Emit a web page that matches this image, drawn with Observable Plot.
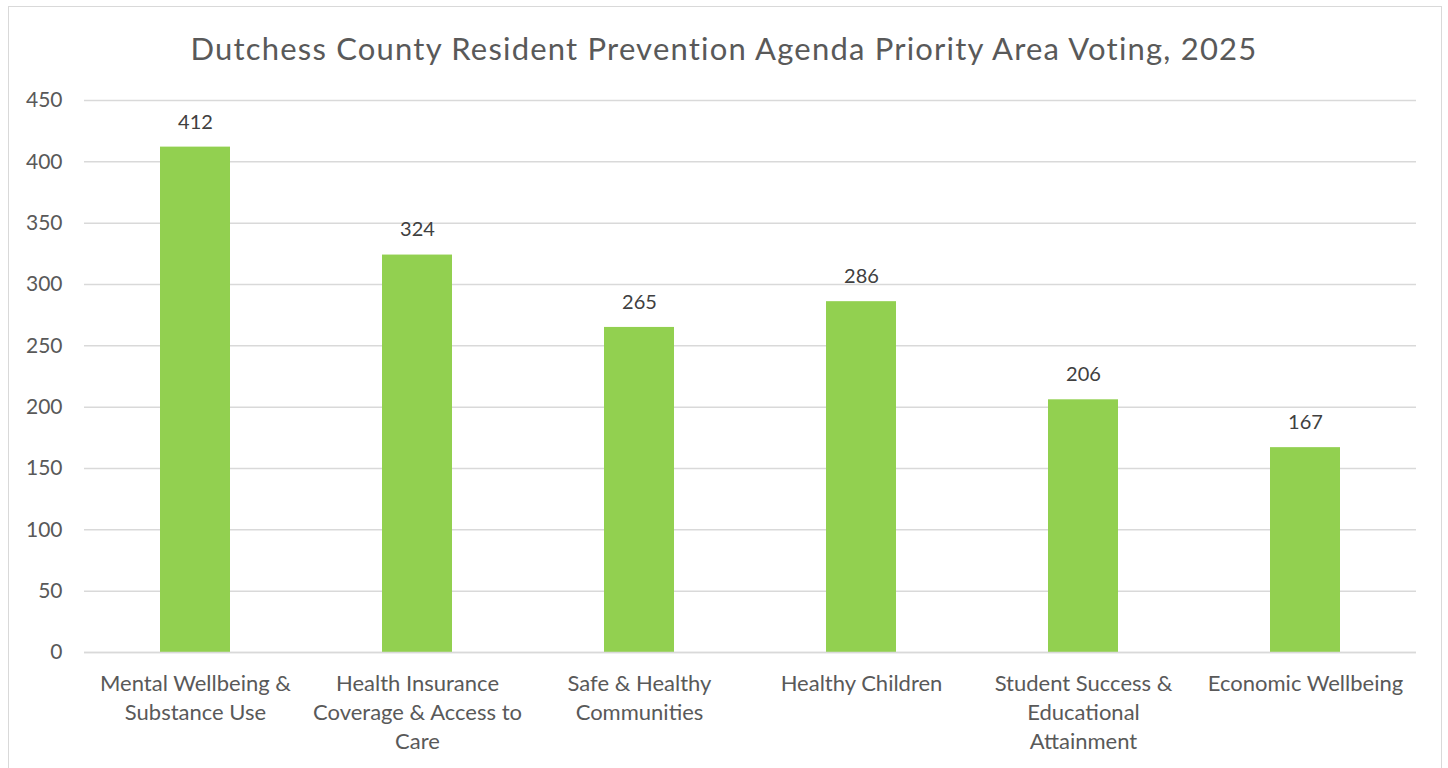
<!DOCTYPE html>
<html>
<head>
<meta charset="utf-8">
<script src="https://cdn.jsdelivr.net/npm/d3@7"></script>
<script src="https://cdn.jsdelivr.net/npm/@observablehq/plot@0.6"></script>
<style>
  html, body { margin: 0; padding: 0; background: #fff; overflow: hidden; }
  #frame { position: absolute; left: 8px; top: 6px; width: 1434px; height: 800px; border: 1.5px solid #d9d9d9; box-sizing: border-box; }
  #title { position: absolute; left: 0; top: 28px; width: 1448px; text-align: center; font-family: Lato, "Noto Sans", sans-serif; font-size: 31px; color: #595959; line-height: 40px; letter-spacing: 1.2px; }
  #chart { position: absolute; left: 0; top: 80px; }
</style>
</head>
<body>
<div id="frame"></div>
<div id="title">Dutchess County Resident Prevention Agenda Priority Area Voting, 2025</div>
<div id="chart"></div>
<script>
const categories = [
  "Mental Wellbeing &\nSubstance Use",
  "Health Insurance\nCoverage & Access to\nCare",
  "Safe & Healthy\nCommunities",
  "Healthy Children",
  "Student Success &\nEducational\nAttainment",
  "Economic Wellbeing"
];
const votes = [412, 324, 265, 286, 206, 167];
const yTicks = [0, 50, 100, 150, 200, 250, 300, 350, 400, 450];

const data = categories.map((c, i) => ({category: c, votes: votes[i]}));

const chart = Plot.plot({
  width: 1448,
  height: 688,
  marginTop: 20,
  marginBottom: 116,
  marginLeft: 84,
  marginRight: 32,
  style: {fontFamily: "Lato, 'Open Sans', sans-serif", fontSize: "19px", color: "#595959", background: "transparent"},
  x: {domain: categories, paddingInner: 0.685, paddingOuter: 0.3425, label: null},
  y: {domain: [0, 450], label: null},
  marks: [
    Plot.gridY(yTicks, {stroke: "#d9d9d9", strokeOpacity: 1, strokeWidth: 1.5}),
    Plot.barY(data, {x: "category", y: "votes", fill: "#92d050"}),
    Plot.ruleY([0], {stroke: "#d9d9d9", strokeWidth: 1.5}),
    Plot.text(data, {x: "category", y: "votes", text: d => String(d.votes), dy: -25, fill: "#404040", fontSize: 20, lineAnchor: "middle"}),
    Plot.axisY({ticks: yTicks, tickSize: 0, tickPadding: 22, fontSize: 21, fill: "#595959"}),
    Plot.axisX({tickSize: 0, tickPadding: 18, fontSize: 22, fill: "#595959", lineHeight: 1.32, lineAnchor: "top"})
  ]
});
document.getElementById("chart").appendChild(chart);
</script>
</body>
</html>
